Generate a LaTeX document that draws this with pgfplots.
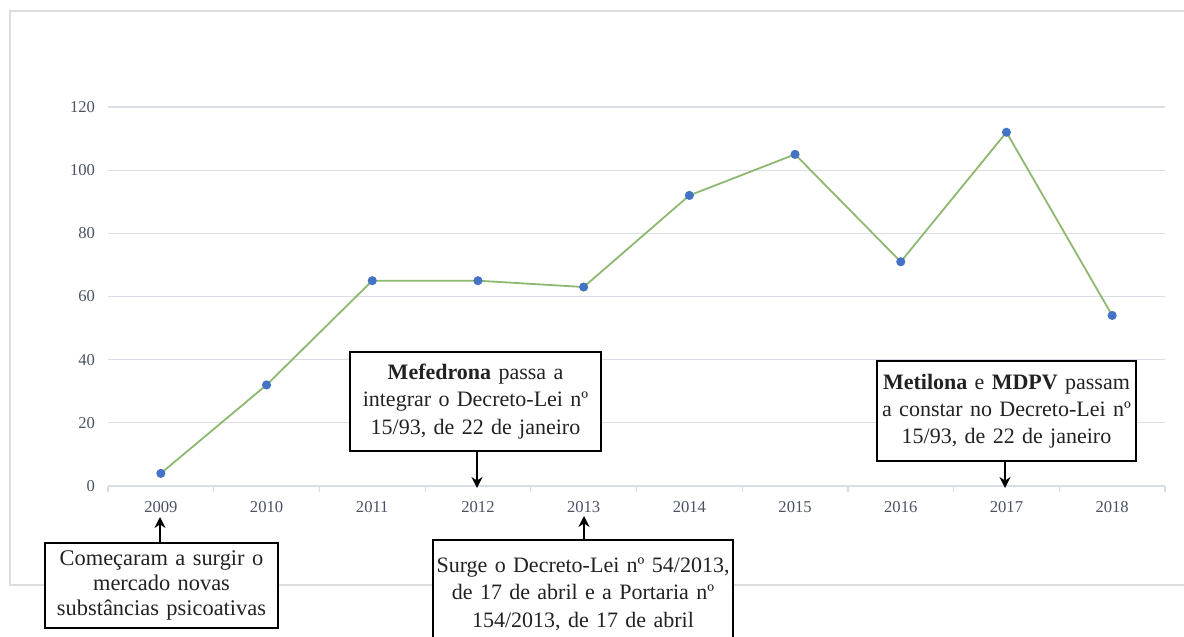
\documentclass[border=0pt]{standalone}
\usepackage{fontspec}
\setmainfont{Liberation Serif}
\usepackage{pgfplots}
\pgfplotsset{compat=1.18}
\usetikzlibrary{arrows.meta}
\definecolor{gridc}{HTML}{D9DEE6}
\definecolor{framec}{HTML}{DDDDDD}
\definecolor{linec}{HTML}{8DB870}
\definecolor{markc}{HTML}{4472C4}
\definecolor{tickc}{HTML}{4A5263}
\definecolor{txtc}{HTML}{222222}
\begin{document}
\begin{tikzpicture}[x=1pt,y=1pt]
\useasboundingbox (0pt,0pt) rectangle (592pt,318.5pt);
\draw[framec, line width=0.6pt] (600pt,313pt) -- (5pt,313pt) -- (5pt,26pt) -- (600pt,26pt);
\begin{axis}[at={(54pt,75.5pt)}, anchor=south west, scale only axis,
  width=528.5pt, height=189.5pt,
  xmin=-0.5, xmax=9.5, ymin=0, ymax=120,
  ytick={0,20,...,120},
  xtick={-0.5,0.5,...,9.5}, xticklabels={},
  extra x ticks={0,1,2,3,4,5,6,7,8,9},
  extra x tick labels={2009,2010,2011,2012,2013,2014,2015,2016,2017,2018},
  extra x tick style={major tick length=0pt, grid=none},
  ymajorgrids, grid style={gridc, line width=0.6pt},
  axis line style={draw=none},
  tick align=outside, major tick length=3pt,
  xtick pos=bottom, ytick pos=left,
  xtick style={gridc, line width=0.6pt},
  ytick style={draw=none},
  ticklabel style={font=\fontsize{8.3}{9}\selectfont, text=tickc},
  xticklabel style={yshift=-4pt},
  /pgf/number format/assume math mode=true,
  clip=false]
\addplot[linec, line width=0.9pt, mark=*, mark size=1.8pt,
  mark options={draw=markc, fill=markc}] coordinates {
  (0,4) (1,32) (2,65) (3,65) (4,63) (5,92) (6,105) (7,71) (8,112) (9,54)};
\end{axis}
\tikzset{box/.style={draw=black, line width=0.75pt, fill=white, text=txtc, align=center, inner sep=0pt},
  arr/.style={line width=0.75pt, -{Stealth[length=5.5pt,width=5.5pt]}}}
% box 1
\draw[arr] (80pt,47pt) -- (80pt,60pt);
\node[box, minimum width=116.5pt, minimum height=42.5pt, text width=115pt,
  font=\fontsize{11.2}{12.5}\selectfont] at (80.75pt,25.75pt)
  {Começaram a surgir o\\ mercado novas\\ substâncias psicoativas};
% box 2
\draw[arr] (238.5pt,93pt) -- (238.5pt,74.5pt);
\node[box, minimum width=125.5pt, minimum height=49.5pt, text width=124pt,
  font=\fontsize{11}{13.7}\selectfont] at (237.75pt,117.75pt)
  {\textbf{Mefedrona} passa a\\ integrar o Decreto-Lei nº\\ 15/93, de 22 de janeiro};
% box 3
\draw[arr] (292pt,48.5pt) -- (292pt,60.5pt);
\node[box, minimum width=150pt, minimum height=54pt, text width=149pt,
  font=\fontsize{11}{13.7}\selectfont] at (291.5pt,21.5pt)
  {Surge o Decreto-Lei nº 54/2013,\\ de 17 de abril e a Portaria nº\\ 154/2013, de 17 de abril};
% box 4
\draw[arr] (502.5pt,88pt) -- (502.5pt,74.5pt);
\node[box, minimum width=129.5pt, minimum height=50pt, text width=128pt,
  font=\fontsize{11}{13.5}\selectfont] at (503.25pt,113pt)
  {\textbf{Metilona} e \textbf{MDPV} passam\\ a constar no Decreto-Lei nº\\ 15/93, de 22 de janeiro};
\end{tikzpicture}
\end{document}
